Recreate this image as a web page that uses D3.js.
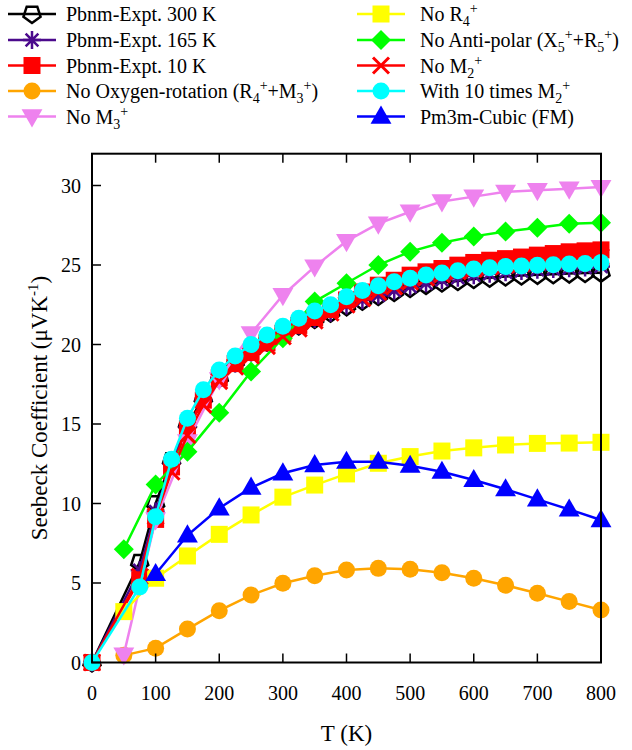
<!DOCTYPE html>
<html><head><meta charset="utf-8">
<script src="https://cdn.jsdelivr.net/npm/d3@7"></script>
<style>body{margin:0;background:#fff}svg{display:block}</style>
</head><body>
<svg id="c" width="632" height="750"></svg>
<script>
// ---- data ----
const Tdense = [0,75,100,125,150,175,200,225,250,275,300,325,350,375,400,425,450,475,500,525,550,575,600,625,650,675,700,725,750,775,800];
const T50 = [50,100,150,200,250,300,350,400,450,500,550,600,650,700,750,800];
const T100 = [100,150,200,250,300,350,400,450,500,550,600,650,700,750,800];

const expt300 = [0,6.3,10.0,12.7,15.0,16.6,17.9,18.9,19.6,20.3,20.8,21.2,21.6,22.0,22.4,22.75,23.05,23.3,23.55,23.75,23.9,24.0,24.12,24.2,24.28,24.34,24.38,24.42,24.46,24.5,24.52];
const expt165 = [0,5.8,9.5,12.5,14.8,16.5,17.9,18.8,19.5,20.1,20.7,21.2,21.6,22.0,22.45,22.8,23.1,23.4,23.65,23.85,24.05,24.2,24.35,24.45,24.55,24.62,24.7,24.75,24.8,24.85,24.9];
const expt10 = [0,5.2,9.0,12.3,14.7,16.5,17.9,18.8,19.5,20.1,20.7,21.2,21.7,22.2,22.8,23.3,23.73,24.04,24.36,24.57,24.78,24.99,25.16,25.3,25.4,25.5,25.62,25.72,25.83,25.89,25.95];
const noOxyRot = [0.45,0.9,2.1,3.26,4.24,4.98,5.46,5.82,5.92,5.86,5.65,5.3,4.86,4.35,3.83,3.3];
const noM3 = [0.5,9.0,13.9,17.8,20.7,23.1,24.9,26.5,27.6,28.35,29.0,29.3,29.6,29.7,29.8,29.9];
const noR4 = [3.2,5.3,6.7,8.06,9.28,10.4,11.16,11.86,12.53,12.95,13.3,13.5,13.68,13.78,13.8,13.85];
const noAntiPolar = [7.12,11.2,13.26,15.7,18.3,20.4,22.7,23.85,25.0,25.84,26.4,26.8,27.1,27.35,27.6,27.65];
const noM2 = [0,5.4,9.2,12.0,14.3,16.2,17.7,18.6,19.3,19.9,20.5,21.0,21.5,22.0,22.5,22.9,23.3,23.65,23.95,24.2,24.4,24.6,24.75,24.9,25.0,25.1,25.2,25.28,25.35,25.42,25.5];
const tenM2 = [0,4.75,9.17,12.78,15.36,17.15,18.4,19.28,20.0,20.6,21.15,21.65,22.1,22.5,23.0,23.4,23.7,23.95,24.16,24.37,24.5,24.64,24.75,24.83,24.9,24.94,24.98,25.02,25.06,25.1,25.15];
const cubicFM = [5.57,8.0,9.7,11.0,11.9,12.42,12.63,12.63,12.38,12.0,11.48,10.9,10.26,9.63,8.96];

const xTicks = [0,100,200,300,400,500,600,700,800];
const yTicks = [0,5,10,15,20,25,30];

// legend labels as segments [text, mode]
const labels = {
  expt300: [["Pbnm-Expt. 300 K",""]],
  expt165: [["Pbnm-Expt. 165 K",""]],
  expt10: [["Pbnm-Expt. 10 K",""]],
  noOxyRot: [["No Oxygen-rotation (R",""],["4","sub"],["+","sup"],["+M",""],["3","sub"],["+","sup"],[")",""]],
  noM3: [["No M",""],["3","sub"],["+","sup"]],
  noR4: [["No R",""],["4","sub"],["+","sup"]],
  noAntiPolar: [["No Anti-polar (X",""],["5","sub"],["+","sup"],["+R",""],["5","sub"],["+","sup"],[")",""]],
  noM2: [["No M",""],["2","sub"],["+","sup"]],
  tenM2: [["With 10 times M",""],["2","sub"],["+","sup"]],
  cubicFM: [["Pm3m-Cubic (FM)",""]]
};

const series = [
  {key:"expt300", xs:Tdense, ys:expt300, color:"#000000", marker:"pentagon", col:0, row:0},
  {key:"expt165", xs:Tdense, ys:expt165, color:"#4b0a8c", marker:"star", col:0, row:1},
  {key:"expt10", xs:Tdense, ys:expt10, color:"#ff0000", marker:"square", col:0, row:2},
  {key:"noOxyRot", xs:T50, ys:noOxyRot, color:"#ffa500", marker:"circle", col:0, row:3},
  {key:"noM3", xs:T50, ys:noM3, color:"#ee82ee", marker:"tridown", col:0, row:4},
  {key:"noR4", xs:T50, ys:noR4, color:"#ffff00", marker:"square", col:1, row:0},
  {key:"noAntiPolar", xs:T50, ys:noAntiPolar, color:"#00ff00", marker:"diamond", col:1, row:1},
  {key:"noM2", xs:Tdense, ys:noM2, color:"#ff0000", marker:"cross", col:1, row:2},
  {key:"tenM2", xs:Tdense, ys:tenM2, color:"#00ffff", marker:"circle", col:1, row:3},
  {key:"cubicFM", xs:T100, ys:cubicFM, color:"#0000ff", marker:"triup", col:1, row:4}
];

// ---- layout ----
const L = 92, R = 601, B = 662.5, Tp = 153.7;
const x = d3.scaleLinear().domain([0,800]).range([L,R]);
const y = d3.scaleLinear().domain([0,32]).range([B,Tp]);
const FONT = '"Liberation Serif"';
const svg = d3.select("#c").style("font-family",FONT);

function drawMarker(g, type, cx, cy, color){
  if(type==="circle"){
    g.append("circle").attr("cx",cx).attr("cy",cy).attr("r",8.5).attr("fill",color);
  } else if(type==="square"){
    g.append("rect").attr("x",cx-8.5).attr("y",cy-8.5).attr("width",17).attr("height",17).attr("fill",color);
  } else if(type==="diamond"){
    const r=10;
    g.append("path").attr("d",`M${cx},${cy-r}L${cx+r},${cy}L${cx},${cy+r}L${cx-r},${cy}Z`).attr("fill",color);
  } else if(type==="triup"){
    const r=11;
    g.append("path").attr("d",`M${cx},${cy-r}L${cx+r*0.95},${cy+r*0.65}L${cx-r*0.95},${cy+r*0.65}Z`).attr("fill",color);
  } else if(type==="tridown"){
    const r=11;
    g.append("path").attr("d",`M${cx},${cy+r}L${cx+r*0.95},${cy-r*0.65}L${cx-r*0.95},${cy-r*0.65}Z`).attr("fill",color);
  } else if(type==="pentagon"){
    const r=9; let pts=[];
    for(let i=0;i<5;i++){const a=Math.PI/2+i*2*Math.PI/5; pts.push([cx+r*Math.cos(a), cy+r*Math.sin(a)]);}
    g.append("path").attr("d","M"+pts.map(p=>p.join(",")).join("L")+"Z").attr("fill","none").attr("stroke",color).attr("stroke-width",2.5);
  } else if(type==="star"){
    const r=9, d=r*0.707;
    g.append("path").attr("d",`M${cx-r},${cy}L${cx+r},${cy}M${cx},${cy-r}L${cx},${cy+r}M${cx-d},${cy-d}L${cx+d},${cy+d}M${cx-d},${cy+d}L${cx+d},${cy-d}`)
      .attr("stroke",color).attr("stroke-width",2.5).attr("fill","none");
  } else if(type==="cross"){
    const r=8;
    g.append("path").attr("d",`M${cx-r},${cy-r}L${cx+r},${cy+r}M${cx-r},${cy+r}L${cx+r},${cy-r}`)
      .attr("stroke",color).attr("stroke-width",3).attr("fill","none");
  }
}

// ---- series ----
const line = d3.line().x(d=>x(d[0])).y(d=>y(d[1]));
series.forEach(s=>{
  const g = svg.append("g");
  const pts = s.xs.map((t,i)=>[t,s.ys[i]]);
  g.append("path").attr("d",line(pts)).attr("fill","none").attr("stroke",s.color).attr("stroke-width",2.5);
  pts.forEach(p=>drawMarker(g,s.marker,x(p[0]),y(p[1]),s.color));
});

// ---- axes frame ----
const ax = svg.append("g");
ax.append("rect").attr("x",L).attr("y",Tp).attr("width",R-L).attr("height",B-Tp)
  .attr("fill","none").attr("stroke","#000").attr("stroke-width",2);
const tl = 9;
xTicks.forEach(t=>{
  ax.append("line").attr("x1",x(t)).attr("x2",x(t)).attr("y1",B).attr("y2",B-tl).attr("stroke","#000").attr("stroke-width",1.5);
  ax.append("line").attr("x1",x(t)).attr("x2",x(t)).attr("y1",Tp).attr("y2",Tp+tl).attr("stroke","#000").attr("stroke-width",1.5);
  ax.append("text").attr("x",x(t)).attr("y",B+37).attr("text-anchor","middle")
    .style("font-family",FONT).attr("font-size",20).text(t);
});
yTicks.forEach(v=>{
  ax.append("line").attr("x1",L).attr("x2",L+tl).attr("y1",y(v)).attr("y2",y(v)).attr("stroke","#000").attr("stroke-width",1.5);
  ax.append("text").attr("x",L-11).attr("y",y(v)+7).attr("text-anchor","end")
    .style("font-family",FONT).attr("font-size",20).text(v);
});
ax.append("text").attr("x",(L+R)/2).attr("y",741).attr("text-anchor","middle")
  .style("font-family",FONT).attr("font-size",23).text("T (K)");
const yt = ax.append("text").attr("transform",`translate(47,${(B+Tp)/2}) rotate(-90)`).attr("text-anchor","middle")
  .style("font-family",FONT).attr("font-size",23);
yt.append("tspan").text("Seebeck Coefficient (μVK");
yt.append("tspan").attr("dy",-9).attr("font-size",15).text("-1");
yt.append("tspan").attr("dy",9).text(")");

// ---- legend ----
const legCols = [{lx0:8, lx1:56, tx:66},{lx0:357, lx1:405, tx:420}];
const rowY = [14,40,65.5,91,116.5];
function richText(sel, segs){
  let cur=0;
  segs.forEach(([txt,mode])=>{
    const target = mode==="sub"?5:(mode==="sup"?-8:0);
    const ts = sel.append("tspan").attr("dy",target-cur).text(txt);
    if(mode) ts.attr("font-size",14);
    cur=target;
  });
}
series.forEach(s=>{
  const c = legCols[s.col], cy = rowY[s.row];
  const g = svg.append("g");
  g.append("line").attr("x1",c.lx0).attr("x2",c.lx1).attr("y1",cy).attr("y2",cy).attr("stroke",s.color).attr("stroke-width",2.5);
  drawMarker(g,s.marker,(c.lx0+c.lx1)/2,cy,s.color);
  const t = g.append("text").attr("x",c.tx).attr("y",cy+7).style("font-family",FONT).attr("font-size",20);
  richText(t, labels[s.key]);
});
</script>
</body></html>
